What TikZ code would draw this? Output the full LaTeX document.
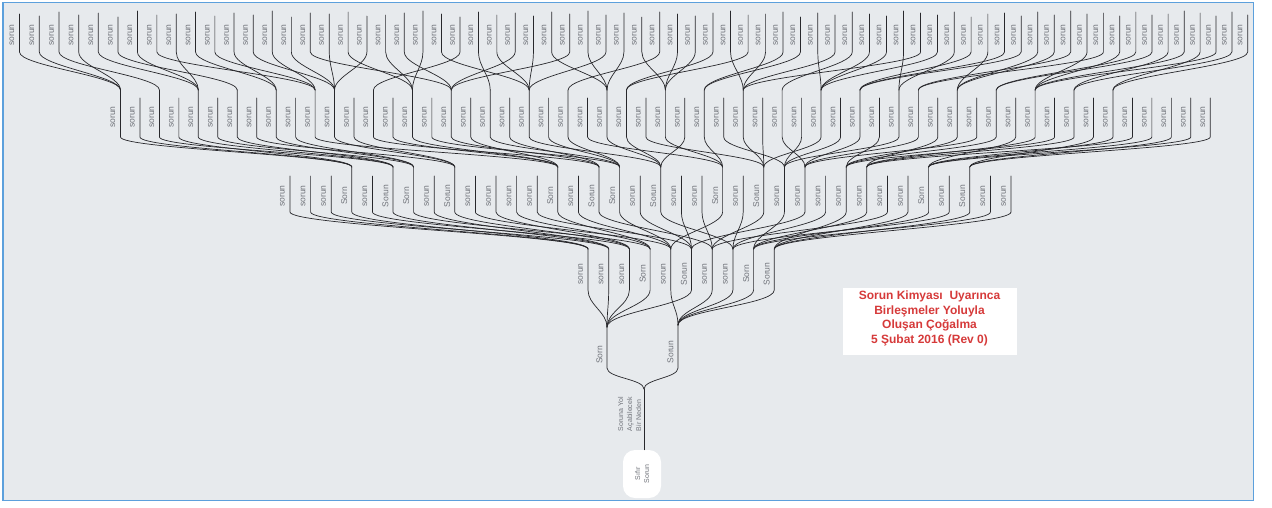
\documentclass[tikz,border=0pt]{standalone}
\usepackage{fontspec}
\setmainfont{Liberation Sans}
\usetikzlibrary{calc}
\definecolor{bgc}{RGB}{231,234,237}
\definecolor{framec}{RGB}{92,160,220}
\definecolor{labc}{RGB}{112,115,122}
\definecolor{titlec}{RGB}{214,58,58}
\definecolor{wirec}{RGB}{40,40,44}
\def\PthreeArr{{4,6,7,9,14,16,17,19,22,24,25,26,28,29,32,34}}
\def\KfourArr{{1,1,2,1,2,3,2,4,3,3,5,4,4,6,5,5,7,6,5,7,6,8,7,7,9,8,8,10,9,8,9,11,10,10,12,11,10,11,12,13,11,12,14,13,12,13,15,14,13,14,16,15,14,15,16,15,16}}
\def\FfourArr{{1,0,1,0,1,0,1,0,1,0,1,1,0,1,0,1,0,1,0,1,0,1,0,1,0,1,1,0,1,0,1,0,1,0,1,0,1,0,1,0,1,1,0,1,0,1,0,1,0,1,0,1,0,0,0,0,0}}
\def\PfourArr{{1,3,5,7,9,11,12,14,16,18,20,22,24,26,27,29,31,33,35,37,39,41,42,44,46,48,50,52}}
\def\QfiveArr{{1,1,2,1,3,4,3,6,3,5,6,5,7,6,7,10,7,9,7,9,10,9,12,8,11,12,10,12,14,10,14,12,14,16,13,16,16,15,18,15,18,17,17,20,18,19,20,20,22,18,20,22,21,24,21,21,24,24,23,26,23,26,25,25,27,26,28,26,27,28}}
\def\TfiveArr{{14,16,12,15,13,17,11,15,14,12,16,13,15,11,17,13,14,12,16,15,13,11,14,17,12,15,13,16,12,14,11,15,13,17,12,14,16,13,11,15,14,12,17,13,15,12,14,16,11,13,15,12,17,14,13,16,12,15,11,14,13,16,12,15,14,11,13,16,12,15}}
\begin{document}
\begin{tikzpicture}[x=1pt,y=-1pt,
  lab/.style={rotate=90,inner sep=0pt,text=labc,font=\fontsize{8.5}{9}\selectfont},
  wire/.style={draw=wirec,line width=0.7pt,line cap=round},
  ]
\useasboundingbox (0,0) rectangle (1272,507);
\fill[white] (0,0) rectangle (1272,507);
\draw[framec,line width=1.8pt,fill=bgc] (3,2.5) rectangle (1253.5,500.5);
% title
\node[fill=white,minimum width=174pt,minimum height=67pt,inner sep=0pt] (titlebox) at (929.5,321.5) {};
\node[text=titlec,font=\bfseries\fontsize{12}{14.5}\selectfont,align=center] (title) at (929.5,318.5) {Sorun Kimyası~~Uyarınca\\Birleşmeler Yoluyla\\Oluşan Çoğalma\\5 Şubat 2016 (Rev 0)};
% root and stem
\node[rotate=90,fill=white,rounded corners=12pt,minimum width=48pt,minimum height=38pt,inner sep=0pt,align=center,text=labc,font=\fontsize{7}{9}\selectfont] (root) at (642,474) {Sıfır\\Sorun};
\coordinate (S-t) at (644,389);
\draw[wire] (S-t) -- (S-t |- root.east);
\node[lab,align=left,font=\fontsize{7}{9}\selectfont] (cause) at (629.5,414) {Soruna Yol\\Açabilecek\\Bir Neden};
% level 1
\foreach \i/\xx/\yy/\tx/\ly in {1/607/327/Sorn/355,2/678/325/Sorun/352}{
  \coordinate (L1-\i-t) at (\xx,\yy);
  \coordinate (L1-\i-b) at (\xx,368);
  \node[lab] (L1-\i) at (\xx-7.5,\ly) {\tx};
  \draw[wire] (L1-\i-t) -- (L1-\i-b) .. controls ($(L1-\i-b)+(0,10)$) and ($(S-t)+(0,-10)$) .. (S-t);
}
% level 2
\foreach \i/\tx/\pa in {1/sorun/1,2/sorun/1,3/sorun/1,4/Sorn/1,5/sorun/2,6/Sorun/1,7/sorun/2,8/sorun/2,9/Sorn/2,10/Sorun/2}{
  \pgfmathsetmacro\xx{588+20.7*(\i-1)}
  \coordinate (L2-\i-t) at (\xx,249);
  \coordinate (L2-\i-b) at (\xx,290);
  \node[lab] (L2-\i) at (\xx-7.5,274) {\tx};
  \draw[wire] (L2-\i-t) -- (L2-\i-b) .. controls ($(L2-\i-b)+(0,15)$) and ($(L1-\pa-t)+(0,-15)$) .. (L1-\pa-t);
}
% level 3
\foreach \i/\tx/\pa/\fl in {1/sorun/1/0,2/sorun/1/0,3/sorun/2/0,4/Sorn/1/1,5/sorun/3/0,6/Sorun/2/1,7/Sorn/4/1,8/sorun/2/0,9/Sorun/3/1,10/sorun/5/0,11/sorun/3/0,12/sorun/4/0,13/sorun/6/0,14/Sorn/4/1,15/sorun/5/0,16/Sorun/7/1,17/Sorn/5/1,18/sorun/6/0,19/Sorun/8/1,20/sorun/6/0,21/sorun/7/0,22/Sorn/5/1,23/sorun/8/0,24/Sorun/7/1,25/sorun/9/1,26/sorun/6/1,27/sorun/8/0,28/sorun/10/1,29/sorun/9/1,30/sorun/7/0,31/sorun/10/0,32/Sorn/9/1,33/sorun/8/0,34/Sorun/10/1,35/sorun/9/0,36/sorun/10/0}{
  \pgfmathsetmacro\xx{290+20.6*(\i-1)}
  \pgfmathsetmacro\yt{176-9*\fl}
  \coordinate (L3-\i-t) at (\xx,\yt);
  \coordinate (L3-\i-b) at (\xx,212);
  \node[lab] (L3-\i) at (\xx-7.5,196) {\tx};
  \draw[wire] (L3-\i-t) -- (L3-\i-b) .. controls ($(L3-\i-b)+(0,14)$) and ($(L2-\pa-t)+(0,-14)$) .. (L2-\pa-t);
}
% level 4
\foreach \j in {1,...,57}{
  \pgfmathsetmacro\xx{120.5+19.46*(\j-1)}
  \pgfmathtruncatemacro\fl{\FfourArr[\j-1]}
  \pgfmathtruncatemacro\kk{\KfourArr[\j-1]}
  \pgfmathtruncatemacro\pa{\PthreeArr[\kk-1]}
  \pgfmathsetmacro\yt{98-8*\fl}
  \coordinate (L4-\j-t) at (\xx,\yt);
  \coordinate (L4-\j-b) at (\xx,137);
  \node[lab] (L4-\j) at (\xx-7.5,117) {sorun};
  \draw[wire] (L4-\j-t) -- (L4-\j-b) .. controls ($(L4-\j-b)+(0,12)$) and ($(L3-\pa-t)+(0,-12)$) .. (L3-\pa-t);
}
% level 5
\foreach \c in {1,...,70}{
  \pgfmathsetmacro\xx{19.5+19.8*(\c-1)-(\c-1)*(\c-2)/34}
  \pgfmathtruncatemacro\qq{\QfiveArr[\c-1]}
  \pgfmathtruncatemacro\pa{\PfourArr[\qq-1]}
  \pgfmathsetmacro\yt{\TfiveArr[\c-1]}
  \coordinate (L5-\c-t) at (\xx,\yt);
  \coordinate (L5-\c-b) at (\xx,52);
  \node[lab] (L5-\c) at (\xx-7.5,35) {sorun};
  \draw[wire] (L5-\c-t) -- (L5-\c-b) .. controls ($(L5-\c-b)+(0,14)$) and ($(L4-\pa-t)+(0,-14)$) .. (L4-\pa-t);
}
\end{tikzpicture}
\end{document}
